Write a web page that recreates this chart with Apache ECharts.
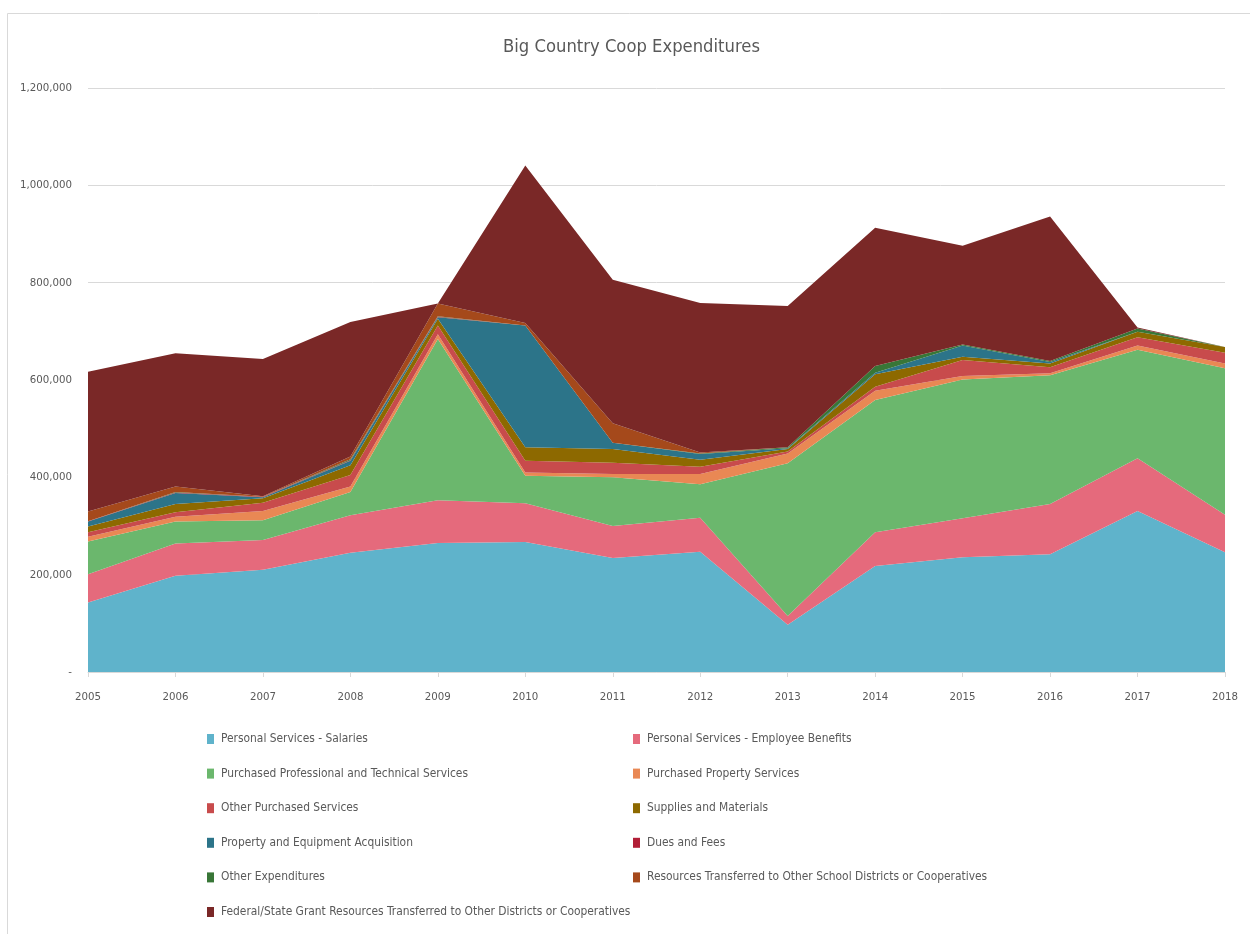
<!DOCTYPE html>
<html>
<head>
<meta charset="utf-8">
<script src="https://cdn.jsdelivr.net/npm/echarts@6/dist/echarts.min.js"></script>
<style>
html,body{margin:0;padding:0;background:#fff;}
#chart{width:1250px;height:934px;}
</style>
</head>
<body>
<div id="chart"></div>
<script>
const years = ['2005','2006','2007','2008','2009','2010','2011','2012','2013','2014','2015','2016','2017','2018'];
const yTicks = [0, 200000, 400000, 600000, 800000, 1000000, 1200000];

const salaries   = [143000,198000,210000,245000,265000,267000,234000,247000, 97000,218000,236000,242000,331000,246000];
const benefits   = [ 58000, 66000, 61000, 77000, 88000, 80000, 66000, 70000, 18000, 69000, 80000,103000,108000, 77000];
const profTech   = [ 67000, 45000, 41000, 48000,331000, 56000,100000, 69000,314000,272000,285000,265000,223000,301000];
const propServ   = [ 10000, 10000, 19000, 11000, 10000,  7000,  7000, 21000, 20000, 19000,  7000,  4000,  9000, 10000];
const otherPurch = [  9000,  9000, 17000, 24000, 18000, 24000, 23000, 15000,  4000,  8000, 33000, 12000, 17000, 22000];
const supplies   = [ 12000, 17000,  9000, 20000, 14000, 28000, 28000, 14000,  5000, 26000,  7000,  8000, 11000, 12000];
const propEquip  = [ 10000, 23000,  2000,  9000,  3000,250000, 13000, 12000,  2000,  3000, 23000,  3000,     0,     0];
const duesFees   = [  1000,  1000,  1000,  1000,  1000,     0,     0,     0,     0,     0,     0,     0,     0,     0];
const otherExp   = [     0,  1000,     0,  2000,  1000,     0,     0,  1000,  2000, 14000,  2000,  2000,  7000,     0];
const resTransf  = [ 20000, 11000,  1000,  6000, 26000,  5000, 40000,  2000,     0,     0,     0,     0,     0,     0];
const fedState   = [287000,274000,282000,276000,     0,324000,295000,307000,290000,284000,203000,297000,  2000,     0];

const seriesNames = [
  'Personal Services - Salaries',
  'Personal Services - Employee Benefits',
  'Purchased Professional and Technical Services',
  'Purchased Property Services',
  'Other Purchased Services',
  'Supplies and Materials',
  'Property and Equipment Acquisition',
  'Dues and Fees',
  'Other Expenditures',
  'Resources Transferred to Other School Districts or Cooperatives',
  'Federal/State Grant Resources Transferred to Other Districts or Cooperatives'
];
const titleText = 'Big Country Coop Expenditures';
const seriesData = [salaries, benefits, profTech, propServ, otherPurch, supplies, propEquip, duesFees, otherExp, resTransf, fedState];
const colors = ['#5FB3CB','#E56A7C','#6BB76D','#E98854','#C84B4C','#8D6900','#2C7489','#B21E37','#387637','#A5491B','#7A2827'];

// pick a narrow font if one is installed, and size texts to the reference's widths
const ctx = document.createElement('canvas').getContext('2d');
function hasFont(name) {
  const t = 'mmmmmmmmmmlliWWQ@#0123';
  for (const base of ['monospace', 'serif']) {
    ctx.font = '72px ' + base;
    const a = ctx.measureText(t).width;
    ctx.font = "72px '" + name + "', " + base;
    if (ctx.measureText(t).width !== a) return true;
  }
  return false;
}
const candidates = ['Liberation Sans Narrow', 'DejaVu Sans Condensed', 'Roboto Condensed', 'Open Sans Condensed', 'Noto Sans Condensed', 'Lato', 'Roboto'];
let FONT = 'sans-serif';
for (const c of candidates) { if (hasFont(c)) { FONT = "'" + c + "', sans-serif"; break; } }
function fitSize(text, targetW, maxSize) {
  ctx.font = '100px ' + FONT;
  return Math.min(maxSize, 100 * targetW / ctx.measureText(text).width);
}
const legendSize = fitSize(seriesNames[10], 410, 15);
const titleSize = fitSize(titleText, 257, 23);
const axisSize = fitSize('1,200,000', 52, 14);

const TXT = '#595959';
const chart = echarts.init(document.getElementById('chart'), null, {renderer: 'canvas'});

const series = seriesNames.map((name, i) => ({
  name: name,
  type: 'line',
  stack: 'total',
  data: seriesData[i],
  symbol: 'none',
  showSymbol: false,
  lineStyle: {width: 0},
  areaStyle: {color: colors[i], opacity: 1},
  itemStyle: {color: colors[i]},
  emphasis: {disabled: true}
}));

const legendCommon = {
  orient: 'vertical',
  top: 732,
  itemWidth: 7,
  itemHeight: 10,
  itemGap: 20.6,
  icon: 'rect',
  padding: 0,
  selectedMode: false,
  textStyle: {fontFamily: FONT, fontSize: legendSize, color: TXT, lineHeight: 14, padding: [0,0,0,2]}
};

chart.setOption({
  animation: false,
  color: colors,
  title: {
    text: titleText,
    left: 503,
    top: 38,
    padding: 0,
    textStyle: {fontFamily: FONT, fontSize: titleSize, fontWeight: 'normal', color: TXT}
  },
  graphic: [{
    type: 'rect',
    z: -10,
    shape: {x: 7.5, y: 13.5, width: 1400, height: 1100},
    style: {fill: 'none', stroke: '#D9D9D9', lineWidth: 1}
  }],
  legend: [
    Object.assign({}, legendCommon, {left: 207, data: seriesNames.filter((n, i) => i % 2 === 0)}),
    Object.assign({}, legendCommon, {left: 633, data: seriesNames.filter((n, i) => i % 2 === 1)})
  ],
  grid: {left: 88, right: 25, top: 88, bottom: 262, containLabel: false},
  xAxis: {
    type: 'category',
    data: years,
    boundaryGap: false,
    axisLine: {lineStyle: {color: '#D9D9D9', width: 1}},
    axisTick: {show: true, alignWithLabel: true, length: 5, lineStyle: {color: '#D9D9D9'}},
    axisLabel: {fontFamily: FONT, fontSize: axisSize, color: TXT, margin: 20}
  },
  yAxis: {
    type: 'value',
    min: yTicks[0],
    max: yTicks[yTicks.length - 1],
    interval: yTicks[1] - yTicks[0],
    axisLine: {show: false},
    axisTick: {show: false},
    splitLine: {lineStyle: {color: '#D9D9D9', width: 1}},
    axisLabel: {
      fontFamily: FONT, fontSize: axisSize, color: TXT, margin: 16,
      formatter: v => v === 0 ? '-' : v.toLocaleString('en-US')
    }
  },
  series: series
});
</script>
</body>
</html>
